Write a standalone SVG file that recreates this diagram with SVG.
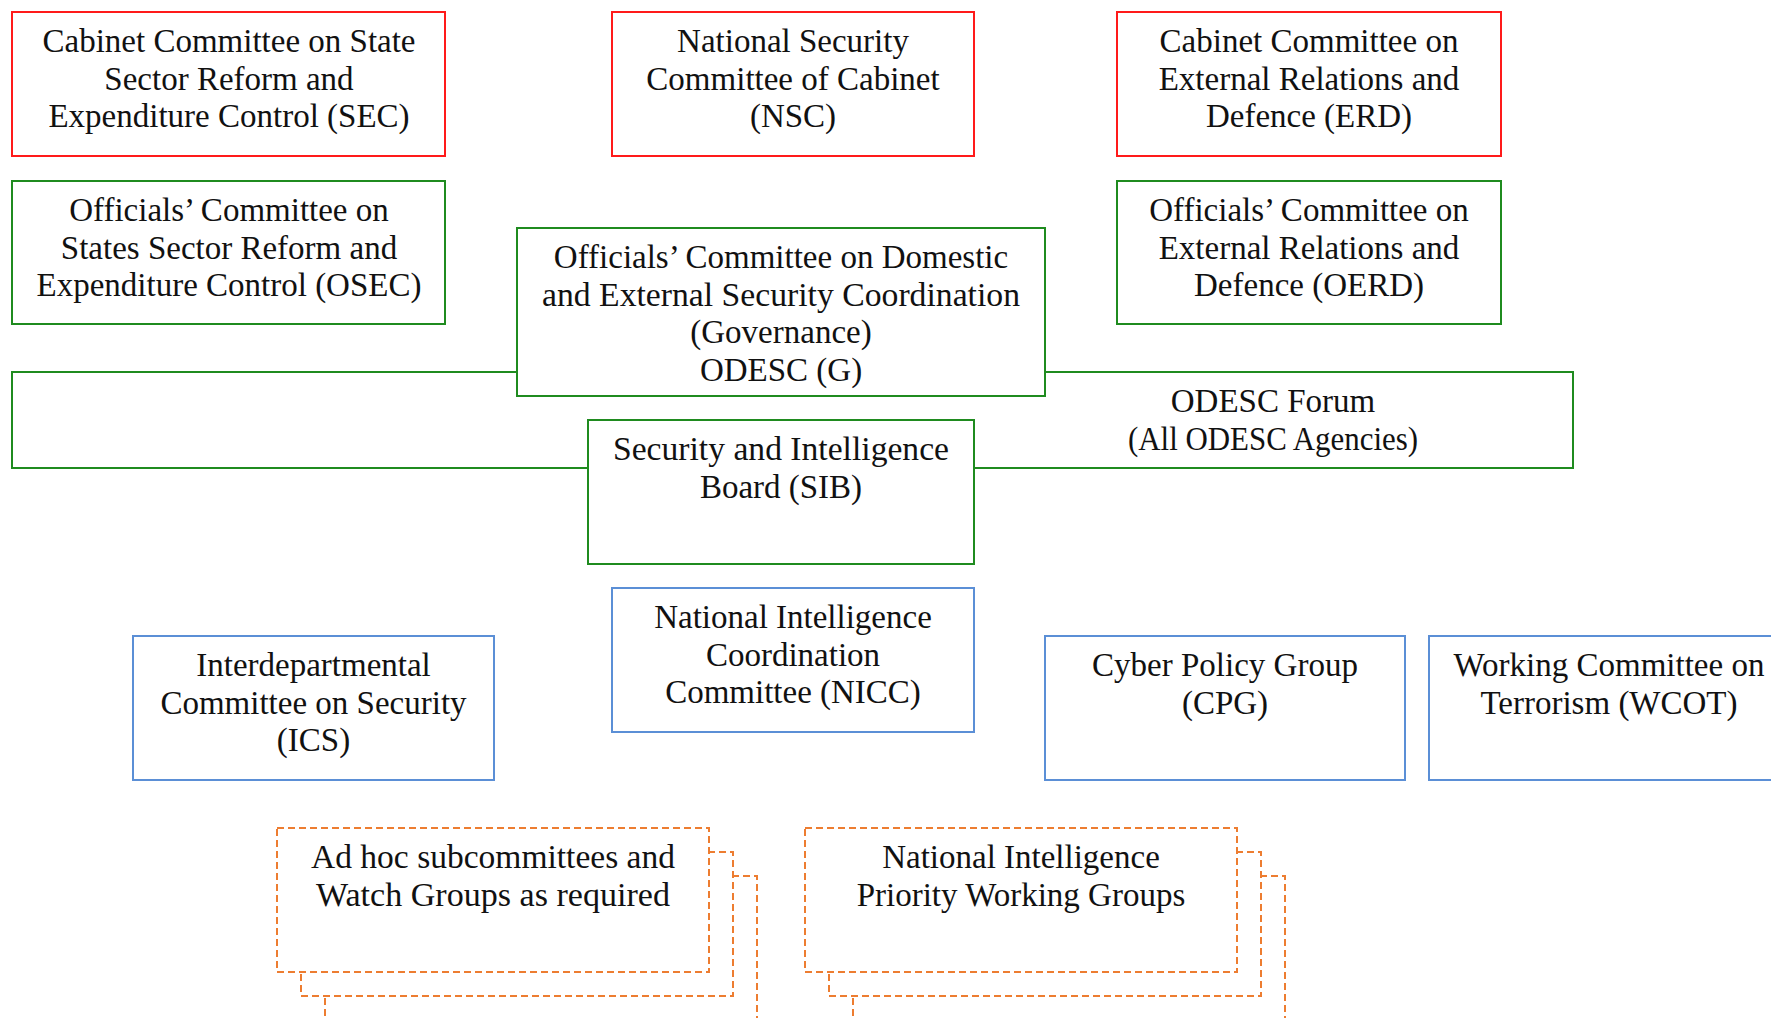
<svg xmlns="http://www.w3.org/2000/svg" width="1771" height="1018" viewBox="0 0 1771 1018">
<style>
  .box { fill: #ffffff; stroke-width: 2; }
  .red { stroke: #FF1A1A; }
  .green { stroke: #1F8B1F; }
  .blue { stroke: #5B8FD6; }
  .dash { fill: #ffffff; stroke: #ED7D31; stroke-width: 2; stroke-dasharray: 7 4; }
  text { font-family: "Liberation Serif", "DejaVu Serif", serif; font-size: 33px; fill: #111111; text-anchor: middle; }
</style>
<rect width="1771" height="1018" fill="#ffffff"/>

<g id="sec">
  <rect class="box red" x="12" y="12" width="433" height="144"/>
  <text x="229" y="52">Cabinet Committee on State</text>
  <text x="229" y="89.5">Sector Reform and</text>
  <text x="229" y="127">Expenditure Control (SEC)</text>
</g>
<g id="nsc">
  <rect class="box red" x="612" y="12" width="362" height="144"/>
  <text x="793" y="52">National Security</text>
  <text x="793" y="89.5">Committee of Cabinet</text>
  <text x="793" y="127">(NSC)</text>
</g>
<g id="erd">
  <rect class="box red" x="1117" y="12" width="384" height="144"/>
  <text x="1309" y="52">Cabinet Committee on</text>
  <text x="1309" y="89.5">External Relations and</text>
  <text x="1309" y="127">Defence (ERD)</text>
</g>
<g id="osec">
  <rect class="box green" x="12" y="181" width="433" height="143"/>
  <text x="229" y="221">Officials’ Committee on</text>
  <text x="229" y="258.5">States Sector Reform and</text>
  <text x="229" y="296">Expenditure Control (OSEC)</text>
</g>
<g id="oerd">
  <rect class="box green" x="1117" y="181" width="384" height="143"/>
  <text x="1309" y="221">Officials’ Committee on</text>
  <text x="1309" y="258.5">External Relations and</text>
  <text x="1309" y="296">Defence (OERD)</text>
</g>
<g id="odesc-forum">
  <rect class="box green" x="12" y="372" width="1561" height="96"/>
  <text x="1273" y="412">ODESC Forum</text>
  <text x="1273" y="449.5" textLength="290" lengthAdjust="spacingAndGlyphs">(All ODESC Agencies)</text>
</g>
<g id="odesc-g">
  <rect class="box green" x="517" y="228" width="528" height="168"/>
  <text x="781" y="268">Officials’ Committee on Domestic</text>
  <text x="781" y="305.5" textLength="478" lengthAdjust="spacingAndGlyphs">and External Security Coordination</text>
  <text x="781" y="343">(Governance)</text>
  <text x="781" y="380.5">ODESC (G)</text>
</g>
<g id="sib">
  <rect class="box green" x="588" y="420" width="386" height="144"/>
  <text x="781" y="460" textLength="336" lengthAdjust="spacingAndGlyphs">Security and Intelligence</text>
  <text x="781" y="497.5">Board (SIB)</text>
</g>
<g id="nicc">
  <rect class="box blue" x="612" y="588" width="362" height="144"/>
  <text x="793" y="628">National Intelligence</text>
  <text x="793" y="665.5">Coordination</text>
  <text x="793" y="703">Committee (NICC)</text>
</g>
<g id="ics">
  <rect class="box blue" x="133" y="636" width="361" height="144"/>
  <text x="313.5" y="676">Interdepartmental</text>
  <text x="313.5" y="713.5">Committee on Security</text>
  <text x="313.5" y="751">(ICS)</text>
</g>
<g id="cpg">
  <rect class="box blue" x="1045" y="636" width="360" height="144"/>
  <text x="1225" y="676">Cyber Policy Group</text>
  <text x="1225" y="713.5">(CPG)</text>
</g>
<g id="wcot">
  <rect class="box blue" x="1429" y="636" width="360" height="144"/>
  <text x="1609" y="676">Working Committee on</text>
  <text x="1609" y="713.5">Terrorism (WCOT)</text>
</g>
<g id="adhoc">
  <rect class="dash" x="325" y="876" width="432" height="144"/>
  <rect class="dash" x="301" y="852" width="432" height="144"/>
  <rect class="dash" x="277" y="828" width="432" height="144"/>
  <text x="493" y="868" textLength="364" lengthAdjust="spacingAndGlyphs">Ad hoc subcommittees and</text>
  <text x="493" y="905.5" textLength="354" lengthAdjust="spacingAndGlyphs">Watch Groups as required</text>
</g>
<g id="nipwg">
  <rect class="dash" x="853" y="876" width="432" height="144"/>
  <rect class="dash" x="829" y="852" width="432" height="144"/>
  <rect class="dash" x="805" y="828" width="432" height="144"/>
  <text x="1021" y="868">National Intelligence</text>
  <text x="1021" y="905.5">Priority Working Groups</text>
</g>
<g id="connectors"></g>
</svg>
